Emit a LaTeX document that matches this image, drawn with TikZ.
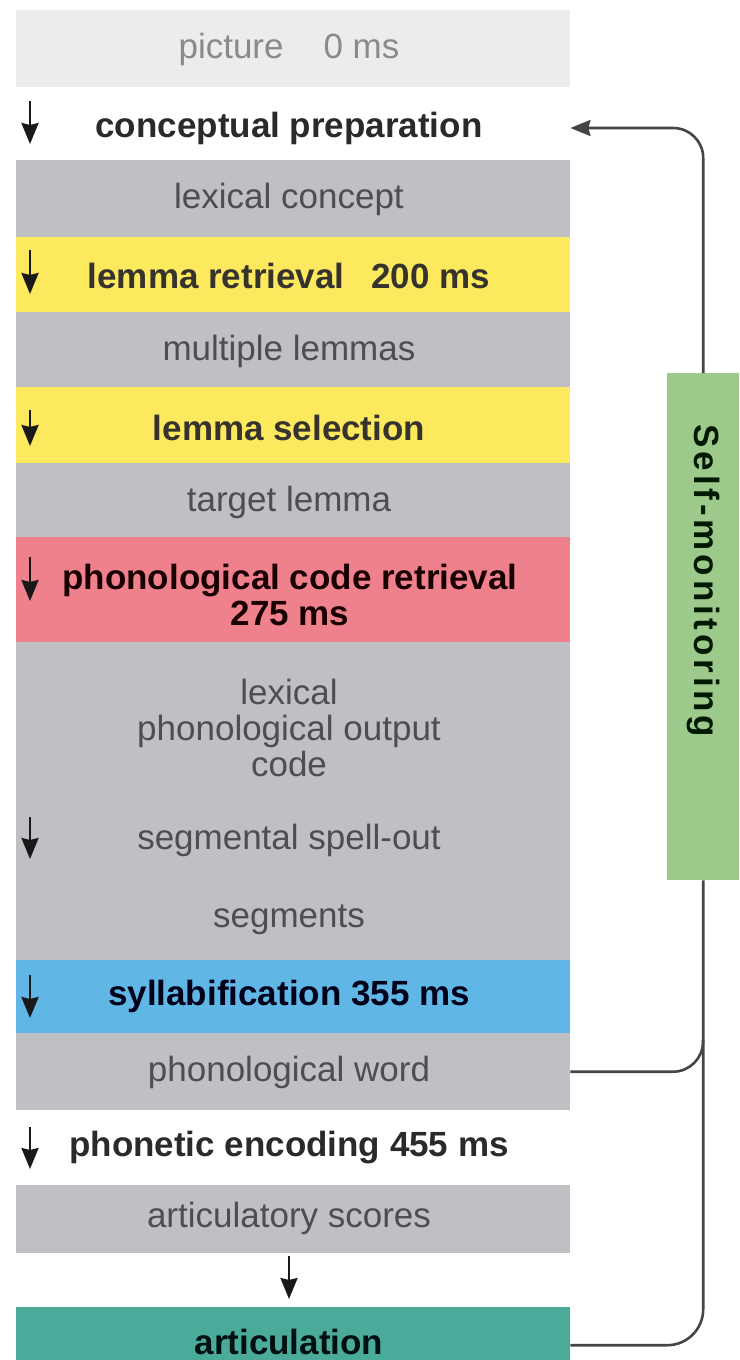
\documentclass[tikz,border=0pt]{standalone}
\usepackage{fontspec}
\setmainfont{Liberation Sans}
\usetikzlibrary{arrows.meta}
\definecolor{bandlight}{HTML}{ECECEC}
\definecolor{bandgray}{HTML}{BFC0C4}
\definecolor{bandyellow}{HTML}{FDE95E}
\definecolor{bandred}{HTML}{EF818C}
\definecolor{bandblue}{HTML}{60B7E5}
\definecolor{bandteal}{HTML}{4AAB9B}
\definecolor{bandgreen}{HTML}{9DCA8B}
\definecolor{txtgray}{HTML}{4E4E50}
\definecolor{txtlight}{HTML}{8A8A8A}
\definecolor{txtbold}{HTML}{2A2A2A}
\definecolor{linecol}{HTML}{454545}
\tikzset{
  band/.style={fill=#1, inner sep=0pt, minimum width=554pt, anchor=north west},
  plain/.style={font=\fontsize{35}{36}\selectfont, text=txtgray, align=center, inner sep=0pt},
  strong/.style={font=\fontsize{35}{36}\selectfont\bfseries, text=txtbold, align=center, inner sep=0pt},
  downarrow/.style={draw=black!90, line width=2.6pt, -{Stealth[length=21pt,width=17pt,inset=2pt]}},
  conn/.style={draw=linecol, line width=2.6pt},
}
\begin{document}
\begin{tikzpicture}[x=1pt,y=-1pt]
\useasboundingbox (0,0) rectangle (739,1360);
\begin{scope}
\clip (0,0) rectangle (739,1360);
% bands
\node[band=bandlight, minimum height=77pt] (bPic) at (16,10) {};
\node[band=white, minimum height=73pt] (bCP) at (16,87) {};
\node[band=bandgray, minimum height=77pt] (bLC) at (16,160) {};
\node[band=bandyellow, minimum height=75pt] (bLR) at (16,237) {};
\node[band=bandgray, minimum height=75pt] (bML) at (16,312) {};
\node[band=bandyellow, minimum height=76pt] (bLS) at (16,387) {};
\node[band=bandgray, minimum height=74pt] (bTL) at (16,463) {};
\node[band=bandred, minimum height=105pt] (bPC) at (16,537) {};
\node[band=bandgray, minimum height=318pt] (bLP) at (16,642) {};
\node[band=bandblue, minimum height=73pt] (bSY) at (16,960) {};
\node[band=bandgray, minimum height=77pt] (bPW) at (16,1033) {};
\node[band=bandgray, minimum height=68pt] (bAS) at (16,1185) {};
\node[band=bandteal, minimum height=76pt] (bAR) at (16,1307) {};
\node[fill=bandgreen, inner sep=0pt, minimum width=72pt, minimum height=507pt, anchor=north west] (mon) at (667,373) {};

% texts
\node[plain, text=txtlight] (tPic) at (289,49) {picture\hspace{40pt}0 ms};
\node[strong] (tCP) at (289,128) {conceptual preparation};
\node[plain] (tLC) at (289,199) {lexical concept};
\node[strong, text={black!85!yellow!60!black}] (tLR) at (289,276) {lemma retrieval\hspace{27pt}200 ms};
\node[plain] (tML) at (289,351) {multiple lemmas};
\node[strong, text={black!85!yellow!60!black}] (tLS) at (289,428) {lemma selection};
\node[plain] (tTL) at (289,502) {target lemma};
\node[strong, text={black!75!red!40!black}] (tPC) at (290,595) {phonological code retrieval\\275 ms};
\node[plain] (tLP) at (289,728) {lexical\\phonological output\\code};
\node[plain] (tSS) at (289,840) {segmental spell-out};
\node[plain] (tSG) at (289,920) {segments};
\node[strong, text={black!80!blue!50!black}] (tSY) at (289,996) {syllabification 355 ms};
\node[plain] (tPW) at (289,1072) {phonological word};
\node[strong] (tPE) at (289,1148) {phonetic encoding 455 ms};
\node[plain] (tAS) at (289,1218) {articulatory scores};
\node[strong, text={black!80!teal!60!black}] (tAR) at (289,1342) {articulation};
\node[strong, rotate=-90, text={black!80!green!50!black}, font=\fontsize{35}{36}\selectfont\bfseries\addfontfeature{LetterSpace=11}] (tMon) at (703,581) {Self-monitoring};

% step arrows
\coordinate (a1s) at (30,101); \coordinate (a1e) at (30,144);
\coordinate (a2s) at (30,250); \coordinate (a2e) at (30,294);
\coordinate (a3s) at (30,410); \coordinate (a3e) at (30,446);
\coordinate (a4s) at (30,557); \coordinate (a4e) at (30,601);
\coordinate (a5s) at (30,817); \coordinate (a5e) at (30,859);
\coordinate (a6s) at (30,975); \coordinate (a6e) at (30,1018);
\coordinate (a7s) at (30,1127); \coordinate (a7e) at (30,1169);
\coordinate (a8s) at (289,1256); \coordinate (a8e) at (289,1299);
\foreach \i in {1,...,8} {\draw[downarrow] (a\i s) -- (a\i e);}

% monitoring connectors
\coordinate (join) at (703,1040);
\draw[conn, rounded corners=30pt, -{Stealth[length=20pt,width=16pt,inset=2pt]}] (mon.north) |- (bCP.east |- tCP);
\draw[conn, rounded corners=36pt] (bAR.east) -| (mon.south);
\draw[conn, rounded corners=30pt] (bPW.east) -| (join);
\end{scope}
\end{tikzpicture}
\end{document}
